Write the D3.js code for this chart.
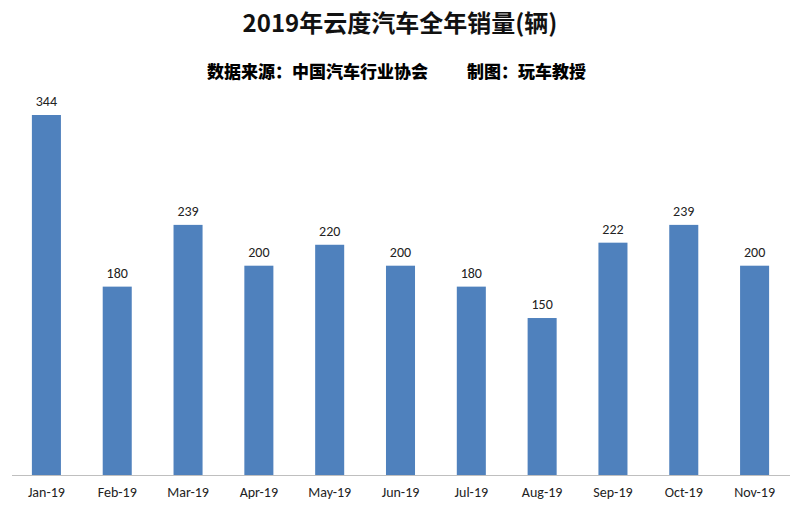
<!DOCTYPE html>
<html>
<head>
<meta charset="utf-8">
<script src="https://cdn.jsdelivr.net/npm/d3@7"></script>
<style>
  body { margin: 0; background: #fff; }
  svg { display: block; }
</style>
</head>
<body>
<div id="chart"></div>
<script>
(function() {
    'use strict';

    const months = ['Jan-19', 'Feb-19', 'Mar-19', 'Apr-19', 'May-19', 'Jun-19',
                    'Jul-19', 'Aug-19', 'Sep-19', 'Oct-19', 'Nov-19'];
    const sales = [344, 180, 239, 200, 220, 200, 180, 150, 222, 239, 200];
    const title = '2019年云度汽车全年销量(辆)';
    const source = '数据来源：中国汽车行业协会';
    const maker = '制图：玩车教授';

    const width = 800;
    const height = 505;
    const base = 475;
    const latin = 'Carlito, "Open Sans", "Noto Sans", sans-serif';
    const cjk = '"Noto Sans CJK SC", sans-serif';

    const svg = d3.select('#chart').append('svg')
        .attr('width', width)
        .attr('height', height);

    const x = d3.scaleBand()
        .domain(months)
        .range([11, 790])
        .paddingInner(0.59)
        .paddingOuter(0.295);

    const y = d3.scaleLinear()
        .domain([0, 344])
        .range([base, 115]);

    // title & subtitle
    svg.append('text')
        .attr('x', 400)
        .attr('y', 32)
        .attr('text-anchor', 'middle')
        .style('font-family', cjk)
        .style('font-size', '24px')
        .style('font-weight', 'bold')
        .style('fill', '#111')
        .text(title);

    svg.append('text')
        .attr('x', 207)
        .attr('y', 78)
        .style('font-family', cjk)
        .style('font-size', '17px')
        .style('font-weight', 900)
        .style('fill', '#000')
        .text(source);

    svg.append('text')
        .attr('x', 467)
        .attr('y', 78)
        .style('font-family', cjk)
        .style('font-size', '17px')
        .style('font-weight', 900)
        .style('fill', '#000')
        .text(maker);

    // bars
    svg.append('g').selectAll('rect').data(sales).enter().append('rect')
        .attr('x', (d, i) => x(months[i]))
        .attr('y', d => y(d))
        .attr('width', x.bandwidth())
        .attr('height', d => base - y(d))
        .style('fill', '#4f81bd');

    // value labels
    svg.append('g').selectAll('text').data(sales).enter().append('text')
        .attr('x', (d, i) => x(months[i]) + x.bandwidth() / 2)
        .attr('y', d => y(d) - 9)
        .attr('text-anchor', 'middle')
        .style('font-family', latin)
        .style('font-size', '14px')
        .style('fill', '#222')
        .text(d => d);

    // x axis
    const axis = svg.append('g')
        .attr('transform', `translate(0,${base})`)
        .call(d3.axisBottom(x).tickSize(0).tickPadding(12));

    axis.select('.domain')
        .attr('d', 'M12,0.5H790')
        .attr('stroke', '#bfbfbf');

    axis.selectAll('text')
        .style('font-family', latin)
        .style('font-size', '14px')
        .style('fill', '#222');
}());
</script>
</body>
</html>
